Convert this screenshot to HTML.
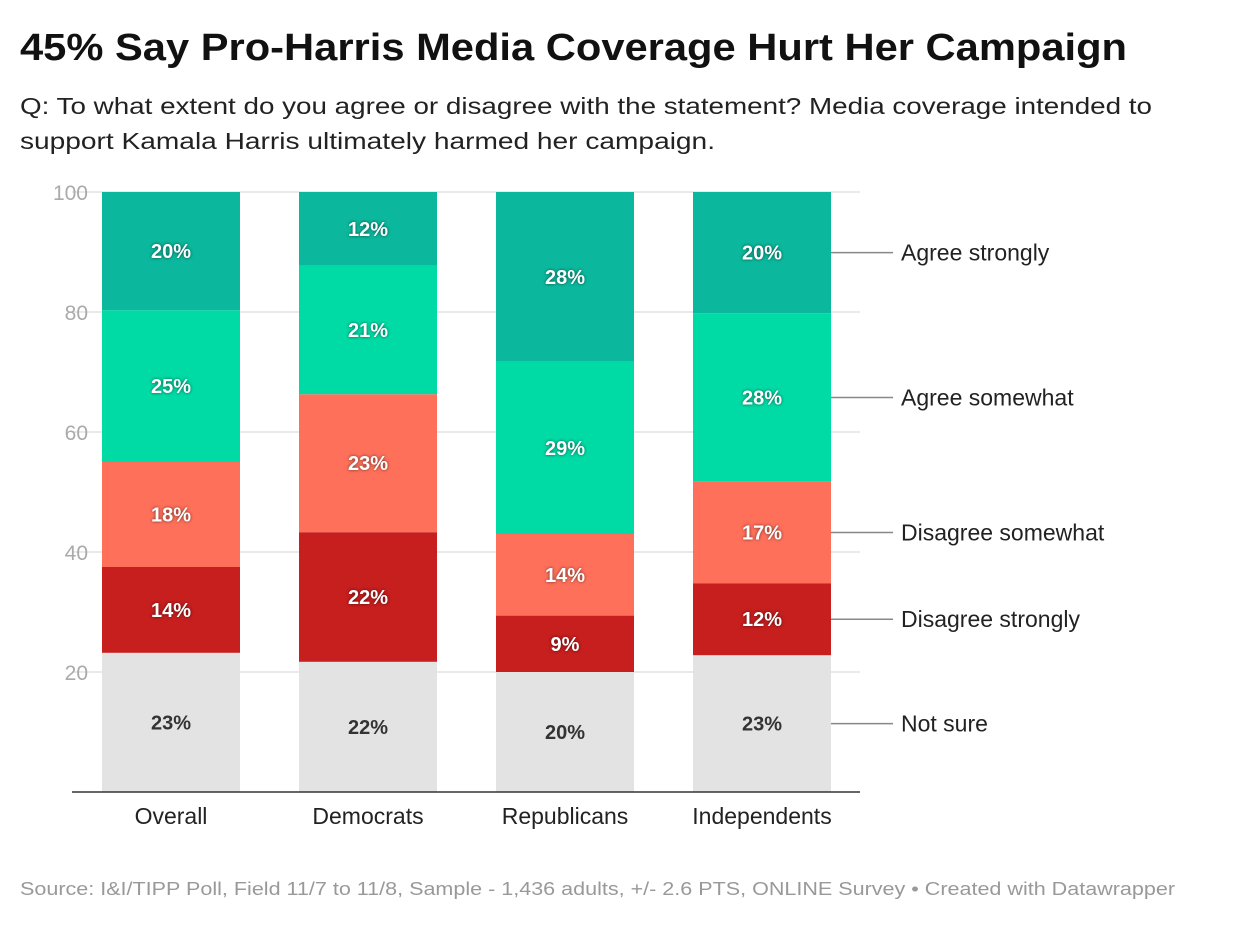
<!DOCTYPE html>
<html><head><meta charset="utf-8"><style>
body{margin:0;background:#fff;width:1240px;height:922px;overflow:hidden;font-family:"Liberation Sans",Arial,sans-serif}
</style></head><body>
<svg id="c" width="1240" height="922" xmlns="http://www.w3.org/2000/svg">
<text x="20" y="60" font-size="38" font-weight="bold" fill="#111" textLength="1107" lengthAdjust="spacingAndGlyphs">45% Say Pro-Harris Media Coverage Hurt Her Campaign</text>
<text x="20" y="114" font-size="23" fill="#222" textLength="1132" lengthAdjust="spacingAndGlyphs">Q: To what extent do you agree or disagree with the statement? Media coverage intended to</text>
<text x="20" y="149" font-size="23" fill="#222" textLength="695" lengthAdjust="spacingAndGlyphs">support Kamala Harris ultimately harmed her campaign.</text>
<g id="grid"></g><g id="bars"></g><g id="legend"></g>
<text x="20" y="895" font-size="18" fill="#999" textLength="1155" lengthAdjust="spacingAndGlyphs">Source: I&amp;I/TIPP Poll, Field 11/7 to 11/8, Sample - 1,436 adults, +/- 2.6 PTS, ONLINE Survey • Created with Datawrapper</text>
</svg>
<script>
const categories=["Overall","Democrats","Republicans","Independents"];
const seriesNames=["Not sure","Disagree strongly","Disagree somewhat","Agree somewhat","Agree strongly"];
const notSure=[23.2,21.7,20.0,22.8];
const disagreeStrongly=[14.3,21.6,9.4,12.0];
const disagreeSomewhat=[17.5,23.0,13.6,16.9];
const agreeSomewhat=[25.3,21.4,28.7,28.1];
const agreeStrongly=[19.7,12.3,28.3,20.2];
const yTicks=[20,40,60,80,100];
const colors=["#e3e3e3","#c71e1e","#ff705b","#00dba6","#0bb89d"];
const series=[notSure,disagreeStrongly,disagreeSomewhat,agreeSomewhat,agreeStrongly];
const NS="http://www.w3.org/2000/svg";
const y=v=>792-v*6;
const bx=i=>102+i*197, bw=138;
function mk(t,a,p){const e=document.createElementNS(NS,t);for(const k in a)e.setAttribute(k,a[k]);p.appendChild(e);return e;}
const g=document.getElementById('grid');
yTicks.forEach(t=>{
 const l=mk('line',{x1:72,x2:860,y1:y(t),y2:y(t),stroke:'#e2e2e2','stroke-width':1.5},g);
 
 
 const tx=mk('text',{x:88,y:y(t)+8,'font-size':21,fill:'#aaa','text-anchor':'end'},g);
 tx.textContent=t;
 
 
});
const b=document.getElementById('bars');
categories.forEach((c,i)=>{
 let acc=0;
 series.forEach((s,k)=>{
  const v=s[i];const top=y(acc+v),bot=y(acc);
  const r=mk('rect',{x:bx(i),y:top,width:bw,height:bot-top,fill:colors[k]},b);
  
  
  const t=mk('text',{x:bx(i)+bw/2,y:(top+bot)/2+7,'font-size':20,'font-weight':'bold','text-anchor':'middle',fill:k==0?'#333':'#fff'},b);
  if(k>0)t.setAttribute('style','text-shadow:0 0 3px rgba(0,0,0,.6)');
  t.textContent=Math.round(v)+'%';
  
  
  acc+=v;
 });
 const ct=mk('text',{x:bx(i)+bw/2,y:824,'font-size':23,fill:'#222','text-anchor':'middle'},b);
 ct.textContent=c;
 
 
});
const ax=mk('line',{x1:72,x2:860,y1:792,y2:792,stroke:'#333','stroke-width':1.5},b);


const lg=document.getElementById('legend');
let acc=0;const li=3;
series.forEach((s,k)=>{
 const v=s[li];const my=y(acc+v/2);acc+=v;
 const l=mk('line',{x1:831,x2:893,y1:my,y2:my,stroke:'#888','stroke-width':1.5},lg);
 
 
 const t=mk('text',{x:901,y:my+8,'font-size':23,fill:'#222'},lg);
 t.textContent=seriesNames[k];
 
 
});
</script>
</body></html>
